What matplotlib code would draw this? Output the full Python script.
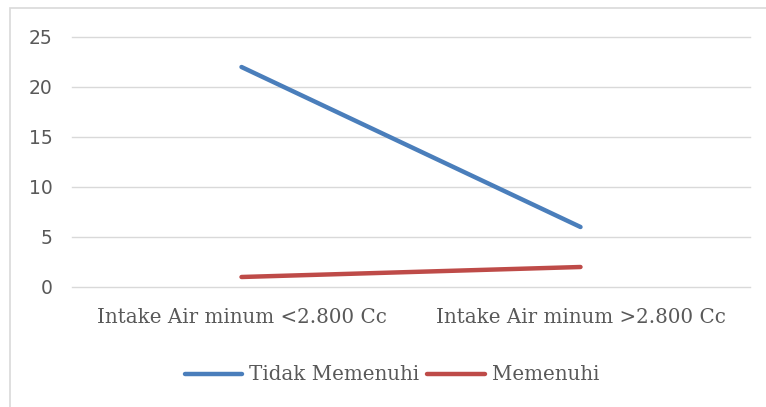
import matplotlib
matplotlib.use("Agg")
import matplotlib.pyplot as plt
from matplotlib.patches import Rectangle

categories = ["Intake Air minum <2.800 Cc", "Intake Air minum >2.800 Cc"]
tidak_memenuhi = [22, 6]
memenuhi = [1, 2]
yticks = [0, 5, 10, 15, 20, 25]

W, H = 766, 407
fig = plt.figure(figsize=(W/100, H/100), dpi=100)
fig.patch.set_facecolor("white")

# outer chart border
fig.add_artist(Rectangle((10/W, 0 - 0.01), (W - 10)/W + 0.02, (H - 8)/H + 0.01,
                         transform=fig.transFigure, fill=False,
                         edgecolor="#D9D9D9", linewidth=1.2))

left, right = 72/W, 750/W
bottom, top = 1 - 287/H, 1 - 37/H
ax = fig.add_axes([left, bottom, right - left, top - bottom])

x = list(range(len(categories)))
ax.plot(x, tidak_memenuhi, color="#4A7EBB", linewidth=3.2, solid_capstyle="round",
        label="Tidak Memenuhi", zorder=3)
ax.plot(x, memenuhi, color="#BE4B48", linewidth=3.2, solid_capstyle="round",
        label="Memenuhi", zorder=3)

ax.set_xlim(-0.5, 1.5)
ax.set_ylim(0, 25)
ax.set_yticks(yticks)
ax.set_xticks(x)
ax.set_xticklabels(categories, fontsize=14.3, family="DejaVu Serif", color="#595959")
ax.tick_params(axis="x", length=0, pad=15)
ax.tick_params(axis="y", length=0, pad=14, labelsize=13.5, labelcolor="#595959")
for lab in ax.get_yticklabels():
    lab.set_family("DejaVu Sans")
for yv in yticks:
    ax.axhline(yv, color="#D9D9D9", linewidth=1.0, zorder=1, clip_on=False)
for s in ax.spines.values():
    s.set_visible(False)

leg = fig.legend(loc="center", bbox_to_anchor=(392/W, 1 - 375/H), ncol=2,
                 frameon=False, prop={"family": "DejaVu Serif", "size": 14.3},
                 handlelength=2.9, handletextpad=0.35, columnspacing=0.4)
for t in leg.get_texts():
    t.set_color("#595959")

fig.savefig("out.png", dpi=100)
